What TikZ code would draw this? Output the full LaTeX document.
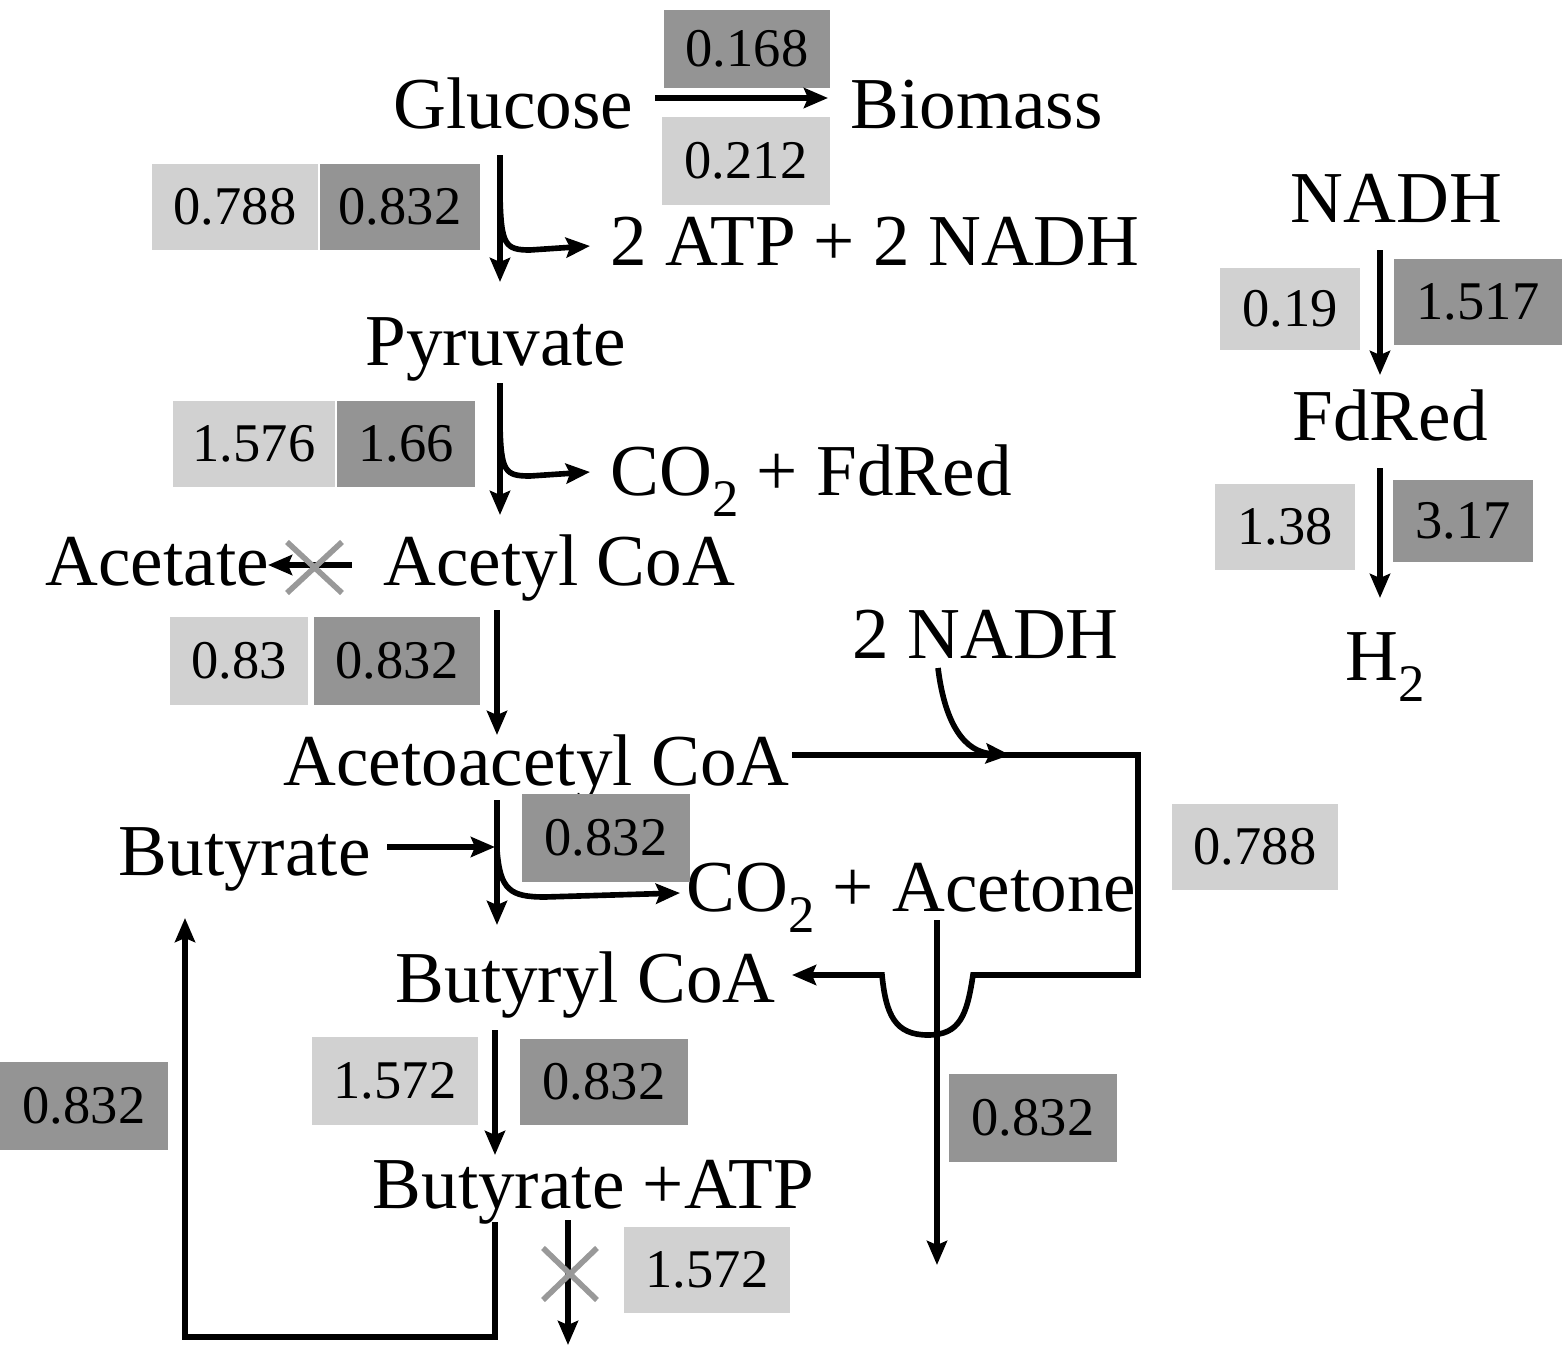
\documentclass[tikz,border=0pt]{standalone}
\usepackage{fontspec}
\setmainfont{Liberation Serif}
\usetikzlibrary{arrows.meta}
\newcommand{\subtwo}{\raisebox{-0.3em}{\fontsize{15}{15}\selectfont 2}}
\begin{document}
\begin{tikzpicture}[x=0.01cm,y=-0.01cm,
  lbl/.style={font=\fontsize{20.8}{24}\selectfont, inner sep=0, anchor=base west},
  numbox/.style={font=\fontsize{15.5}{18}\selectfont, inner sep=0},
  light/.style={numbox, fill=black!18},
  dark/.style={numbox, fill=black!42},
  arr/.style={line width=1.6pt, -{Stealth[length=2.4mm,width=2mm,inset=0.4mm]}},
  ln/.style={line width=1.6pt},
  xmark/.style={line width=1.6pt, draw=black!40}]
\useasboundingbox (0,0) rectangle (1565,1348);

% ---- text nodes
\node[lbl] (glu) at (393,128) {Glucose};
\node[lbl] (bio) at (850,128) {Biomass};
\node[lbl] (atp) at (610,265) {2 ATP + 2 NADH};
\node[lbl] (pyr) at (365,365) {Pyruvate};
\node[lbl] (co2a) at (610,495) {CO\subtwo{} + FdRed};
\node[lbl] (acet) at (45,585) {Acetate};
\node[lbl] (acoa) at (383,585) {Acetyl CoA};
\node[lbl] (nadh2) at (852,658) {2 NADH};
\node[lbl] (aacoa) at (283,785) {Acetoacetyl CoA};
\node[lbl] (buta) at (118,875) {Butyrate};
\node[lbl] (co2b) at (686,911) {CO\subtwo{} + Acetone};
\node[lbl] (bcoa) at (395,1002) {Butyryl CoA};
\node[lbl] (batp) at (372,1208) {Butyrate +ATP};
\node[lbl] (nadh) at (1290,222) {NADH};
\node[lbl] (fd) at (1292,440) {FdRed};
\node[lbl] (h2) at (1345,680) {H\subtwo};

% ---- number boxes
\node[dark,  minimum width=1.65cm, minimum height=0.78cm] (b168) at (747,49) {0.168};
\node[light, minimum width=1.68cm, minimum height=0.87cm] (b212) at (746,161) {0.212};
\node[light, minimum width=1.65cm, minimum height=0.85cm] (b788a) at (235,207) {0.788};
\node[dark,  minimum width=1.60cm, minimum height=0.85cm] (b832a) at (400,207) {0.832};
\node[light, minimum width=1.62cm, minimum height=0.85cm] (b1576) at (254,444) {1.576};
\node[dark,  minimum width=1.38cm, minimum height=0.85cm] (b166) at (406,444) {1.66};
\node[light, minimum width=1.38cm, minimum height=0.87cm] (b083) at (239,661) {0.83};
\node[dark,  minimum width=1.65cm, minimum height=0.87cm] (b832b) at (397,661) {0.832};
\node[light, minimum width=1.40cm, minimum height=0.82cm] (b019) at (1290,309) {0.19};
\node[dark,  minimum width=1.67cm, minimum height=0.85cm] (b1517) at (1478,302) {1.517};
\node[light, minimum width=1.40cm, minimum height=0.85cm] (b138) at (1285,527) {1.38};
\node[dark,  minimum width=1.40cm, minimum height=0.82cm] (b317) at (1463,521) {3.17};
\node[light, minimum width=1.66cm, minimum height=0.85cm] (b788b) at (1255,847) {0.788};
\node[dark,  minimum width=1.68cm, minimum height=0.87cm] (b832c) at (606,838) {0.832};
\node[dark,  minimum width=1.67cm, minimum height=0.87cm] (b832d) at (1033,1118) {0.832};
\node[dark,  minimum width=1.68cm, minimum height=0.87cm] (b832e) at (84,1106) {0.832};
\node[light, minimum width=1.66cm, minimum height=0.87cm] (b1572a) at (395,1081) {1.572};
\node[dark,  minimum width=1.68cm, minimum height=0.85cm] (b832f) at (604,1082) {0.832};
\node[light, minimum width=1.65cm, minimum height=0.85cm] (b1572b) at (707,1270) {1.572};

% ---- connector end points
\coordinate (g1) at (655,98);   \coordinate (g2) at (828,98);
\coordinate (v1a) at (500,155); \coordinate (v1b) at (500,282);
\coordinate (br1) at (500,195); \coordinate (br1e) at (590,246);
\coordinate (v2a) at (500,383); \coordinate (v2b) at (500,515);
\coordinate (br2) at (500,425); \coordinate (br2e) at (590,472);
\coordinate (ac1) at (352,565); \coordinate (ac2) at (268,565);
\coordinate (v3a) at (497,610); \coordinate (v3b) at (497,735);
\coordinate (v4a) at (497,800); \coordinate (v4b) at (497,925);
\coordinate (bu1) at (387,847); \coordinate (bu2) at (495,847);
\coordinate (br3) at (497,850); \coordinate (br3e) at (680,893);
\coordinate (r1) at (792,755);  \coordinate (r2) at (1138,755);
\coordinate (r3) at (1138,975); \coordinate (r4) at (973,975);
\coordinate (r5) at (882,975);  \coordinate (r6) at (792,975);
\coordinate (n1) at (938,668);  \coordinate (n2) at (1010,755);
\coordinate (at1) at (937,920); \coordinate (at2) at (937,1265);
\coordinate (v5a) at (495,1030); \coordinate (v5b) at (495,1155);
\coordinate (lp1) at (495,1222); \coordinate (lp2) at (495,1337);
\coordinate (lp3) at (185,1337); \coordinate (lp4) at (185,918);
\coordinate (v6a) at (568,1220); \coordinate (v6b) at (568,1345);
\coordinate (h1a) at (1380,250); \coordinate (h1b) at (1380,375);
\coordinate (h2a) at (1380,468); \coordinate (h2b) at (1380,598);

% ---- connectors
\draw[arr] (g1) -- (g2);
\draw[arr] (v1a) -- (v1b);
\draw[arr] (br1) .. controls (501,245) and (505,250) .. (530,250) -- (br1e);
\draw[arr] (v2a) -- (v2b);
\draw[arr] (br2) .. controls (501,472) and (505,476) .. (530,476) -- (br2e);
\draw[arr] (ac1) -- (ac2);
\draw[xmark] (287,542) -- (342,593) (287,593) -- (342,542);
\draw[arr] (v3a) -- (v3b);
\draw[arr] (v4a) -- (v4b);
\draw[arr] (bu1) -- (bu2);
\draw[arr] (br3) .. controls (500,890) and (510,897) .. (545,897) -- (br3e);
\draw[arr] (r1) -- (r2) -- (r3) -- (r4)
  .. controls (967,1015) and (960,1035) .. (928,1035)
  .. controls (895,1035) and (886,1015) .. (r5) -- (r6);
\draw[arr] (n1) .. controls (945,725) and (965,752) .. (n2);
\draw[arr] (at1) -- (at2);
\draw[arr] (v5a) -- (v5b);
\draw[arr] (lp1) -- (lp2) -- (lp3) -- (lp4);
\draw[arr] (v6a) -- (v6b);
\draw[xmark] (543,1248) -- (597,1300) (543,1300) -- (597,1248);
\draw[arr] (h1a) -- (h1b);
\draw[arr] (h2a) -- (h2b);
\end{tikzpicture}
\end{document}
